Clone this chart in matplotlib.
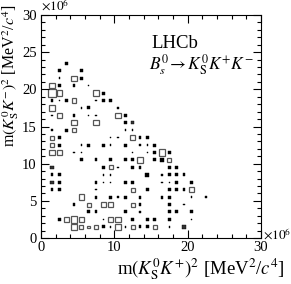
import matplotlib
matplotlib.use('Agg')
import matplotlib.pyplot as plt
from matplotlib.patches import Rectangle
from matplotlib.ticker import MultipleLocator

plt.rcParams['font.family'] = ['Liberation Serif', 'DejaVu Serif']
plt.rcParams['mathtext.fontset'] = 'stix'

# Bin centres (units of 10^6 MeV^2/c^4) and box content (negative = open box)
kp_sq = [3.5,
         2.5, 5.5,
         2.5, 4.5, 5.5,
         1.5, 2.5, 4.5, 6.5,
         1.5, 2.5, 7.5, 8.5,
         1.5, 2.5, 3.5, 4.5, 7.5, 8.5, 9.5,
         1.5, 5.5, 6.5, 10.5,
         1.5, 2.5, 4.5, 6.5, 7.5, 10.5, 11.5,
         4.5, 7.5, 11.5,
         1.5, 3.5, 4.5, 11.5, 12.5,
         1.5, 2.5, 9.5, 10.5, 12.5, 13.5, 14.5,
         1.5, 2.5, 5.5, 6.5, 8.5, 9.5, 11.5, 13.5, 14.5, 15.5,
         1.5, 2.5, 4.5, 5.5, 12.5, 14.5, 15.5, 16.5, 17.5,
         5.5, 7.5, 9.5, 11.5, 12.5, 13.5, 15.5, 16.5, 17.5,
         8.5, 9.5, 10.5, 12.5, 13.5, 17.5, 18.5,
         1.5, 2.5, 8.5, 9.5, 14.5, 16.5, 17.5, 18.5, 19.5,
         2.5, 7.5, 8.5, 9.5, 11.5, 12.5, 16.5, 17.5, 18.5, 20.5,
         1.5, 2.5, 7.5, 12.5, 14.5, 17.5, 18.5, 19.5, 20.5,
         5.5, 7.5, 9.5, 10.5, 11.5, 13.5, 16.5, 17.5, 20.5, 22.5,
         4.5, 6.5, 8.5, 9.5, 12.5, 13.5, 17.5, 19.5,
         6.5, 7.5, 11.5, 13.5, 17.5, 18.5, 20.5,
         2.5, 3.5, 4.5, 5.5, 8.5, 9.5, 10.5, 12.5, 14.5, 15.5, 17.5, 20.5,
         4.5, 5.5, 6.5, 7.5, 8.5, 9.5, 10.5, 11.5, 12.5, 13.5, 14.5, 15.5, 17.5]
km_sq = [23.5,
         22.5, 22.5,
         21.5, 21.5, 21.5,
         20.5, 20.5, 20.5, 20.5,
         19.5, 19.5, 19.5, 19.5,
         18.5, 18.5, 18.5, 18.5, 18.5, 18.5, 18.5,
         17.5, 17.5, 17.5, 17.5,
         16.5, 16.5, 16.5, 16.5, 16.5, 16.5, 16.5,
         15.5, 15.5, 15.5,
         14.5, 14.5, 14.5, 14.5, 14.5,
         13.5, 13.5, 13.5, 13.5, 13.5, 13.5, 13.5,
         12.5, 12.5, 12.5, 12.5, 12.5, 12.5, 12.5, 12.5, 12.5, 12.5,
         11.5, 11.5, 11.5, 11.5, 11.5, 11.5, 11.5, 11.5, 11.5,
         10.5, 10.5, 10.5, 10.5, 10.5, 10.5, 10.5, 10.5, 10.5,
         9.5, 9.5, 9.5, 9.5, 9.5, 9.5, 9.5,
         8.5, 8.5, 8.5, 8.5, 8.5, 8.5, 8.5, 8.5, 8.5,
         7.5, 7.5, 7.5, 7.5, 7.5, 7.5, 7.5, 7.5, 7.5, 7.5,
         6.5, 6.5, 6.5, 6.5, 6.5, 6.5, 6.5, 6.5, 6.5,
         5.5, 5.5, 5.5, 5.5, 5.5, 5.5, 5.5, 5.5, 5.5, 5.5,
         4.5, 4.5, 4.5, 4.5, 4.5, 4.5, 4.5, 4.5,
         3.5, 3.5, 3.5, 3.5, 3.5, 3.5, 3.5,
         2.5, 2.5, 2.5, 2.5, 2.5, 2.5, 2.5, 2.5, 2.5, 2.5, 2.5, 2.5,
         1.5, 1.5, 1.5, 1.5, 1.5, 1.5, 1.5, 1.5, 1.5, 1.5, 1.5, 1.5, 1.5]
content = [0.4,
           0.4, 0.4,
           0.2, -0.72, 0.4,
           -0.72, 0.4, 0.4, 0.2,
           -1.05, -0.72, -0.72, 0.4,
           0.4, 0.2, 0.4, -0.55, 0.2, 0.4, 0.4,
           -0.72, 0.2, 0.4, 0.2,
           0.2, -0.72, 0.4, 0.2, 0.2, -0.72, 0.4,
           -0.72, -0.72, 0.4,
           0.2, 0.4, -0.55, 0.2, 0.2,
           -0.55, 0.4, 0.2, 0.2, -0.72, 0.4, 0.4,
           -0.55, 0.4, 0.2, 0.4, 0.4, 0.2, 0.4, 0.2, 0.2, 0.4,
           -0.72, -0.72, 0.2, 0.2, 0.2, 0.2, 0.4, -0.9, 0.4,
           0.4, 0.4, 0.4, 0.4, 0.4, -0.72, 0.4, 0.52, -0.55,
           0.4, -0.55, 0.2, 0.4, 0.4, 0.4, 0.4,
           0.4, 0.4, 0.2, 0.2, 0.52, 0.2, 0.4, 0.4, 0.4,
           0.4, 0.4, 0.2, 0.2, 0.4, 0.4, 0.2, 0.2, 0.4, 0.4,
           0.4, 0.4, 0.2, -0.55, 0.4, 0.4, 0.4, 0.4, -0.72,
           -0.72, 0.4, 0.4, 0.2, 0.4, 0.4, 0.4, 0.4, 0.2, 0.2,
           0.4, -0.55, -0.72, -0.72, -0.55, 0.4, 0.4, 0.2,
           0.4, 0.4, 0.4, 0.2, 0.4, 0.4, 0.4,
           0.4, -0.72, -0.9, -0.72, 0.2, -0.72, -0.72, 0.4, 0.4, 0.4, 0.4, 0.2,
           -0.9, -0.55, -0.35, -0.55, 0.4, 0.2, -0.72, 0.2, -0.55, 0.4, 0.4, -0.55, 0.2]
# shaded (cross-hatched) boxes
gray_kp = [12.5, 1.5, 1.5, 19.5]
gray_km = [15.5, 9.5, 7.5, 1.5]
gray_content = [0.45, 0.45, 0.45, 0.45]

fig = plt.figure(figsize=(2.91, 2.84), dpi=100)
ax = fig.add_axes([41/291, 1-238/284, 220/291, 223/284])
ax.set_xlim(0, 30)
ax.set_ylim(0, 30)

for x, y, c in zip(kp_sq, km_sq, content):
    s = abs(c)
    if c > 0:
        ax.add_patch(Rectangle((x - s/2, y - s/2), s, s, facecolor='black',
                               edgecolor='black', lw=0.3))
    else:
        ax.add_patch(Rectangle((x - s/2, y - s/2), s, s, facecolor='none',
                               edgecolor='#555555', lw=0.9))
for x, y, c in zip(gray_kp, gray_km, gray_content):
    s = abs(c)
    ax.add_patch(Rectangle((x - s/2, y - s/2), s, s, facecolor='#333333',
                           edgecolor='black', lw=0.3))

ax.xaxis.set_major_locator(MultipleLocator(10))
ax.xaxis.set_minor_locator(MultipleLocator(2))
ax.yaxis.set_major_locator(MultipleLocator(5))
ax.yaxis.set_minor_locator(MultipleLocator(1))
ax.tick_params(which='both', direction='in', top=True, right=True, width=0.8,
               labelsize=10.5)
ax.tick_params(which='major', length=5.5, pad=3)
ax.tick_params(axis='x', which='major', pad=2)
ax.tick_params(which='minor', length=2.8)
for sp in ax.spines.values():
    sp.set_linewidth(0.8)

fig.text(41/291, 1-14/284, r'$\times10^{6}$', fontsize=9.5,
         ha='left', va='bottom')
fig.text(263/291, 1-235/284, r'$\times10^{6}$', fontsize=9.5,
         ha='left', va='center')

fig.text(285/291, 1-269/284,
         r'm$(K^0_{\rm S}K^{+})^{2}$ [MeV$^{2}$/$c^{4}$]',
         ha='right', va='center', fontsize=13.5)
fig.text(11/291, 1-4/284,
         r'm$(K^0_{\rm S}K^{-})^{2}$ [MeV$^{2}$/$c^{4}$]',
         ha='center', va='top', rotation=90, fontsize=11.5)

fig.text(151/291, 1-43/284, 'LHCb', fontsize=13.5, ha='left', va='center')
fig.text(149/291, 1-65/284, r'$B^0_s\!\rightarrow K^0_{\rm S}K^{+}K^{-}$',
         fontsize=12.5, ha='left', va='center')

fig.savefig('out.png', dpi=100)
